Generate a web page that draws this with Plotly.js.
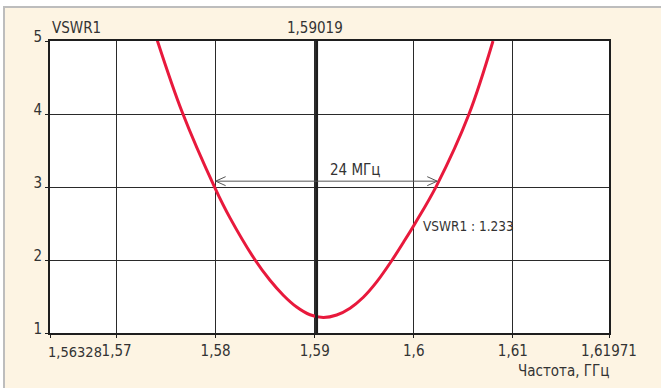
<!DOCTYPE html>
<html>
<head>
<meta charset="utf-8">
<script src="https://cdn.plot.ly/plotly-3.0.1.min.js"></script>
<style>
  html, body { margin: 0; padding: 0; background: #ffffff; }
  #frame { position: absolute; left: 3px; top: 6px; width: 656px; height: 380px;
           border-top: 2px solid #bdbdbd; border-left: 2px solid #bdbdbd; background: #fdf4e3; }
  #chart { width: 656px; height: 380px; }
</style>
</head>
<body>
<div id="frame"><div id="chart"></div></div>
<script>
// ---- data ----
const freqGHz = [1.57408, 1.57661, 1.57994, 1.58145, 1.58397, 1.58549, 1.58683, 1.58818,
                 1.58953, 1.59087, 1.59222, 1.59357, 1.59491, 1.59626, 1.59777, 1.59895,
                 1.60013, 1.60235, 1.60558, 1.60800];
const vswr    = [5.02, 4.03, 2.985, 2.577, 2.003, 1.722, 1.518, 1.356,
                 1.250, 1.213, 1.247, 1.34, 1.49, 1.70, 1.99, 2.24,
                 2.50, 3.03, 4.00, 5.00];

const xTickVals = [1.56328, 1.57, 1.58, 1.59, 1.60, 1.61, 1.61971];
const xTickText = ['1,56328', '1,57', '1,58', '1,59', '1,6', '1,61', '1,61971'];
const yTickVals = [1, 2, 3, 4, 5];
const yTickText = ['1', '2', '3', '4', '5'];

const markerFreq = 1.59019;
const markerText = '1,59019';
const bandStart = 1.58;
const bandEnd = 1.60237;
const bandLevel = 3.08;
const bandText = '24 МГц';
const vswrNote = 'VSWR1 : 1.233';
const vswrNoteFreq = 1.60098;
const vswrNoteLevel = 2.47;
const yTitle = 'VSWR1';
const xTitle = 'Частота, ГГц';

// ---- chart ----
const FONT = 'DejaVu Sans Condensed, Liberation Sans Narrow, Liberation Sans, sans-serif';
const txt = {family: FONT, size: 15, color: '#333333'};

const trace = {
  x: freqGHz, y: vswr, type: 'scatter', mode: 'lines',
  line: {color: '#e8193c', width: 3, shape: 'spline', smoothing: 1},
  hoverinfo: 'skip'
};

const shapes = [
  {type: 'line', xref: 'x', yref: 'y', x0: markerFreq, x1: markerFreq, y0: 1, y1: 5,
   line: {color: '#1e1e1e', width: 3}},
  {type: 'line', xref: 'x', yref: 'y', x0: bandStart, x1: bandEnd, y0: bandLevel, y1: bandLevel,
   line: {color: '#555555', width: 1}},
  {type: 'path', xref: 'x', yref: 'y', xsizemode: 'pixel', ysizemode: 'pixel',
   xanchor: bandStart, yanchor: bandLevel, path: 'M10,4.5 L0,0 L10,-4.5',
   line: {color: '#555555', width: 1}},
  {type: 'path', xref: 'x', yref: 'y', xsizemode: 'pixel', ysizemode: 'pixel',
   xanchor: bandEnd, yanchor: bandLevel, path: 'M-10,4.5 L0,0 L-10,-4.5',
   line: {color: '#555555', width: 1}}
];

const annotations = [
  {xref: 'x', yref: 'paper', x: xTickVals[0], y: 0, xanchor: 'left', yanchor: 'top',
   yshift: -9, xshift: -4, text: xTickText[0], showarrow: false,
   font: {family: FONT, size: 14.5, color: '#333333'}},
  {xref: 'x', yref: 'paper', x: markerFreq, y: 1, xanchor: 'center', yanchor: 'bottom',
   yshift: 2, xshift: -2, text: markerText, showarrow: false, font: txt},
  {xref: 'paper', yref: 'paper', x: 0, y: 1, xanchor: 'left', yanchor: 'bottom',
   yshift: 2, xshift: 0, text: yTitle, showarrow: false, font: txt},
  {xref: 'paper', yref: 'paper', x: 1, y: 0, xanchor: 'right', yanchor: 'top',
   yshift: -27, xshift: 2, text: xTitle, showarrow: false, font: txt},
  {xref: 'x', yref: 'y', x: (bandStart + bandEnd) / 2, y: bandLevel, xanchor: 'center', yanchor: 'bottom',
   yshift: 0, xshift: 29, text: bandText, showarrow: false, font: txt},
  {xref: 'x', yref: 'y', x: vswrNoteFreq, y: vswrNoteLevel, xanchor: 'left', yanchor: 'middle',
   xshift: -2, text: vswrNote, showarrow: false, font: {family: FONT, size: 13.5, color: '#333333'}}
];

const axisCommon = {
  showline: true, mirror: true, linecolor: '#1e1e1e', linewidth: 2,
  showgrid: true, gridcolor: '#2a2a2a', gridwidth: 1,
  zeroline: false, ticks: 'outside', ticklen: 3, tickcolor: '#1e1e1e', tickwidth: 1,
  tickfont: txt, fixedrange: true
};

const layout = {
  width: 656, height: 380,
  margin: {l: 45, r: 52, t: 33, b: 55},
  paper_bgcolor: '#fdf4e3', plot_bgcolor: '#ffffff',
  showlegend: false,
  xaxis: Object.assign({}, axisCommon, {
    range: [xTickVals[0], xTickVals[xTickVals.length - 1]],
    tickmode: 'array', tickvals: xTickVals,
    ticktext: xTickText.map((t, i) => i === 0 ? '' : t)
  }),
  yaxis: Object.assign({}, axisCommon, {
    range: [1, 5], tickmode: 'array', tickvals: yTickVals, ticktext: yTickText,
    ticklabelshift: -4
  }),
  shapes: shapes,
  annotations: annotations
};

Plotly.newPlot('chart', [trace], layout, {displayModeBar: false, staticPlot: true});
</script>
</body>
</html>
